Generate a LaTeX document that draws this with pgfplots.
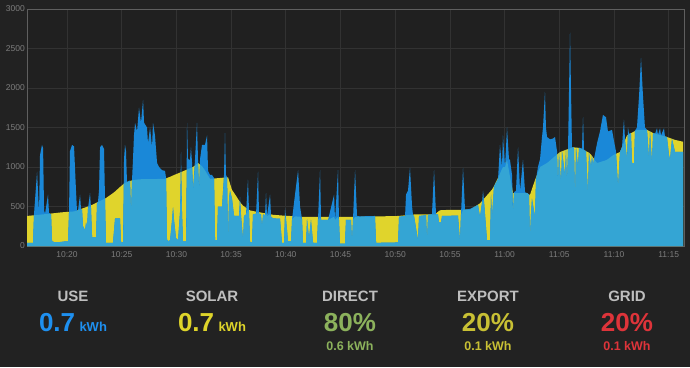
\documentclass[border=0pt]{standalone}
\usepackage{pgfplots}
\usepackage{pgfplotstable}
\pgfplotsset{compat=1.18}
\usepackage{fontspec}
\setmainfont{Liberation Sans}
\definecolor{figbg}{RGB}{34,34,34}
\definecolor{plotbg}{RGB}{32,32,32}
\definecolor{gridgray}{RGB}{50,50,50}
\definecolor{axisgray}{RGB}{95,95,95}
\definecolor{tickgray}{RGB}{125,125,125}
\definecolor{headgray}{RGB}{190,190,190}
\definecolor{solarY}{RGB}{224,212,44}
\definecolor{useB}{RGB}{26,136,216}
\definecolor{directB}{RGB}{52,165,212}
\definecolor{txtBlue}{RGB}{30,144,240}
\definecolor{txtYellow}{RGB}{222,212,42}
\definecolor{txtGreen}{RGB}{140,178,92}
\definecolor{txtOlive}{RGB}{200,192,52}
\definecolor{txtRed}{RGB}{222,52,58}

% t = minutes after 10:00, s = solar (W), u = use (W), d = direct = min(use, solar)
\pgfplotstableread{
t s u d
16.34 380 40 40
16.89 388 40 40
16.98 389 400 389
17.26 393 940 393
17.44 395 420 395
17.53 397 1150 397
17.71 399 1280 399
17.81 400 1240 400
17.90 402 450 402
17.99 403 410 403
18.26 407 650 407
18.35 408 420 408
18.54 411 400 400
18.63 412 60 60
18.81 415 50 50
19.36 424 50 50
19.91 431 60 60
20.09 432 60 60
20.18 433 420 420
20.27 434 1200 434
20.46 436 1280 436
20.64 438 1260 438
20.82 445 700 445
20.91 449 440 440
21.01 454 455 454
21.19 464 650 464
21.28 468 460 460
21.37 473 460 460
21.46 478 250 250
21.65 487 200 200
21.74 492 300 300
21.83 496 250 250
21.92 501 480 480
22.10 511 670 511
22.19 515 480 480
22.29 520 110 110
22.65 545 110 110
22.74 551 540 540
22.83 557 560 557
22.92 564 700 564
23.02 570 1250 570
23.20 582 1280 582
23.38 595 1230 595
23.47 601 600 600
23.56 607 40 40
24.20 669 40 40
24.39 690 350 350
24.84 747 350 350
24.94 758 40 40
25.12 779 50 50
25.21 789 1100 789
25.30 800 1280 800
25.39 804 1200 804
25.48 809 810 809
25.76 822 830 822
25.85 826 420 420
25.94 831 830 830
26.03 835 1100 835
26.12 836 1400 836
26.22 838 1560 838
26.40 841 1450 841
26.58 844 1750 844
26.76 845 1560 845
26.95 845 1850 845
27.04 846 1560 846
27.31 846 1500 846
27.40 846 1300 846
27.59 847 1500 847
27.77 847 1250 847
27.86 847 1560 847
28.04 848 1400 848
28.23 848 1050 848
28.41 849 1000 849
28.68 849 960 849
28.96 850 950 850
29.05 855 860 855
29.14 861 75 75
29.32 871 60 60
29.42 876 75 75
29.60 887 330 330
29.69 893 490 490
29.78 898 330 330
29.96 909 100 100
30.15 919 75 75
30.33 930 430 430
30.42 935 1190 935
30.51 941 430 430
30.60 946 60 60
30.88 962 60 60
30.97 968 1560 968
31.06 973 1100 973
31.24 984 1090 984
31.33 989 1250 989
31.43 995 1050 995
31.52 1000 710 710
31.70 1020 1100 1020
31.88 1040 1560 1040
31.97 1050 1100 1050
32.07 1040 710 710
32.16 1030 1100 1030
32.34 1010 1280 1010
32.61 957 1280 957
32.80 914 1400 914
32.89 893 950 893
33.07 850 900 850
33.25 852 900 852
33.44 854 860 854
33.53 855 75 75
33.71 858 75 75
33.80 859 500 500
34.17 863 500 500
34.35 866 900 866
34.44 867 1430 867
34.53 868 900 868
34.63 869 870 869
34.72 870 80 80
34.81 830 600 600
34.90 790 700 700
35.08 710 600 600
35.27 672 380 380
35.72 577 380 380
35.81 558 620 558
35.91 539 380 380
36.09 511 75 75
36.18 502 380 380
36.36 485 400 400
36.54 468 840 468
36.64 459 420 420
36.73 450 45 45
36.91 445 45 45
37.00 443 400 400
37.28 435 410 410
37.46 430 940 430
37.55 428 410 410
37.73 423 400 400
37.82 421 250 250
37.92 418 400 400
38.10 414 390 390
38.19 411 670 411
38.28 409 380 380
38.56 402 650 402
38.65 400 370 370
38.83 395 350 350
39.47 388 345 345
39.65 386 40 40
39.84 384 40 40
39.93 384 480 384
40.02 383 340 340
40.20 381 60 60
40.48 379 60 60
40.57 378 340 340
40.84 376 650 376
41.12 372 960 372
41.30 370 500 370
41.48 370 340 340
41.57 370 40 40
41.85 370 40 40
41.94 370 340 340
42.12 370 100 100
42.30 370 330 330
42.49 370 40 40
42.85 370 40 40
42.94 370 330 330
43.13 370 960 370
43.22 370 330 330
43.86 370 330 330
44.41 370 650 370
44.50 370 330 330
44.77 370 960 370
44.86 370 330 330
44.95 370 30 30
45.41 370 30 30
45.50 370 330 330
45.96 370 330 330
46.05 370 60 60
46.14 370 330 330
46.33 370 960 370
46.51 370 380 370
46.78 370 375 370
48.15 374 380 374
48.25 374 40 40
50.26 380 45 45
50.35 381 370 370
50.90 388 380 380
50.99 389 650 389
51.17 392 700 392
51.35 394 990 394
51.54 396 500 396
51.63 398 390 390
51.72 399 380 380
52.08 400 75 75
52.18 400 380 380
52.82 400 390 390
52.91 400 75 75
53.00 400 395 395
53.36 400 400 400
53.55 400 960 400
53.73 411 400 400
53.91 433 400 400
54.00 444 300 300
54.19 455 300 300
54.28 455 380 380
55.74 458 385 385
55.92 458 60 60
56.01 458 390 390
56.20 459 990 459
56.38 459 460 459
56.84 460 470 460
57.57 524 520 520
57.75 540 370 370
57.93 569 540 540
58.03 584 700 584
58.12 599 560 560
58.39 642 75 75
58.67 686 75 75
58.76 701 650 650
58.85 715 370 370
59.03 757 750 750
59.21 811 800 800
59.40 865 850 850
59.58 919 1280 919
59.76 973 1000 973
59.85 1000 1400 1000
60.04 1045 1000 1000
60.22 1090 1500 1090
60.40 950 1100 950
60.49 880 1090 880
60.68 740 900 740
60.77 670 420 420
60.86 670 680 670
61.04 670 700 670
61.23 670 1250 670
61.41 670 700 670
61.68 670 1090 670
61.87 670 680 670
62.05 670 670 670
62.23 653 650 650
62.32 645 110 110
62.41 683 400 400
62.50 721 600 600
62.78 835 370 370
62.87 868 840 840
63.05 934 1000 934
63.24 1000 1100 1000
63.42 1014 1380 1014
63.51 1021 1500 1021
63.69 1036 1950 1036
63.78 1043 1500 1043
63.88 1050 1380 1050
64.15 1082 1350 1082
64.42 1115 1360 1115
64.61 1137 1380 1137
64.79 1158 1200 1158
64.88 1168 800 800
64.97 1179 1180 1179
65.16 1195 800 800
65.25 1199 1200 1199
65.52 1213 900 900
65.61 1218 1220 1218
65.70 1222 800 800
65.80 1227 1250 1227
65.98 1236 2700 1236
66.16 1245 1250 1245
66.34 1249 1250 1249
66.44 1247 620 620
66.53 1246 1250 1246
66.71 1243 1000 1000
66.80 1241 1245 1241
67.07 1227 1230 1227
67.17 1220 1630 1220
67.26 1214 1215 1214
67.44 1201 1200 1200
67.62 1188 650 650
67.71 1182 1180 1180
67.90 1157 1000 1000
67.99 1139 1140 1139
68.08 1121 1030 1030
68.17 1104 1100 1100
68.45 1050 1300 1050
68.72 1062 1450 1062
68.99 1074 1660 1074
69.27 1086 1630 1086
69.45 1100 1450 1100
69.82 1140 1470 1140
70.00 1156 1330 1156
70.18 1167 1200 1167
70.37 1179 750 750
70.55 1190 1190 1190
70.73 1250 1250 1250
70.91 1310 1600 1310
71.01 1340 1340 1340
71.19 1400 1090 1090
71.28 1407 1500 1407
71.37 1414 1420 1414
71.55 1428 1430 1428
71.65 1435 1050 1050
71.83 1449 1050 1050
71.92 1456 1460 1456
72.10 1470 1500 1470
72.29 1470 1900 1470
72.47 1470 2380 1470
72.65 1470 1900 1470
72.83 1470 1500 1470
73.02 1470 1470 1470
73.20 1457 1100 1100
73.29 1450 1450 1450
73.47 1437 1050 1050
73.57 1430 1430 1430
73.75 1423 1420 1420
73.93 1416 1490 1416
74.02 1412 1410 1410
74.21 1405 1490 1405
74.30 1401 1400 1400
74.57 1391 1490 1391
74.66 1387 1385 1385
74.84 1380 1380 1380
75.03 1371 1150 1150
75.12 1366 1090 1090
75.30 1357 1355 1355
75.58 1343 1190 1190
76.31 1320 1190 1190
}\energydata

\begin{document}
\begin{tikzpicture}[x=1pt,y=1pt]
\fill[figbg] (0,0) rectangle (690,367);
\begin{axis}[
  at={(27pt,121pt)}, anchor=south west,
  scale only axis, width=657pt, height=237pt,
  xmin=16.34, xmax=76.4, ymin=0, ymax=3000,
  axis background/.style={fill=plotbg},
  axis line style={draw=axisgray, line width=0.8pt},
  grid=major, grid style={draw=gridgray, line width=0.7pt},
  tick style={draw=none},
  xtick={20,25,30,35,40,45,50,55,60,65,70,75},
  xticklabels={10:20,10:25,10:30,10:35,10:40,10:45,10:50,10:55,11:00,11:05,11:10,11:15},
  ytick={0,500,1000,1500,2000,2500,3000},
  /pgf/number format/assume math mode=true,
  /pgf/number format/1000 sep={},
  ticklabel style={font=\fontsize{8.5}{10}\selectfont, text=tickgray},
  yticklabel style={inner sep=1pt, xshift=-1pt},
  xticklabel style={yshift=-2pt},
]
\addplot[fill=solarY, draw=none] table[x=t, y=s] {\energydata} \closedcycle;
\addplot[fill=useB, draw=none] table[x=t, y=u] {\energydata} \closedcycle;
\addplot[fill=directB, draw=none] table[x=t, y=d] {\energydata} \closedcycle;
\end{axis}

% statistics row
\tikzset{head/.style={anchor=base, text=headgray, font=\fontsize{15}{18}\selectfont\bfseries},
         big/.style={anchor=base, font=\fontsize{26}{30}\selectfont\bfseries},
         small/.style={anchor=base, font=\fontsize{12.5}{15}\selectfont\bfseries}}
\node[head] at (73,367-301) {USE};
\node[head] at (212,367-301) {SOLAR};
\node[head] at (350,367-301) {DIRECT};
\node[head] at (488,367-301) {EXPORT};
\node[head] at (627,367-301) {GRID};

\node[big, text=txtBlue] at (73,367-331) {0.7\,{\fontsize{13}{15}\selectfont kWh}};
\node[big, text=txtYellow] at (212,367-331) {0.7\,{\fontsize{13}{15}\selectfont kWh}};
\node[big, text=txtGreen] at (350,367-331) {80\%};
\node[big, text=txtOlive] at (488,367-331) {20\%};
\node[big, text=txtRed] at (627,367-331) {20\%};

\node[small, text=txtGreen] at (350,367-350) {0.6 kWh};
\node[small, text=txtOlive] at (488,367-350) {0.1 kWh};
\node[small, text=txtRed] at (627,367-350) {0.1 kWh};
\end{tikzpicture}
\end{document}
